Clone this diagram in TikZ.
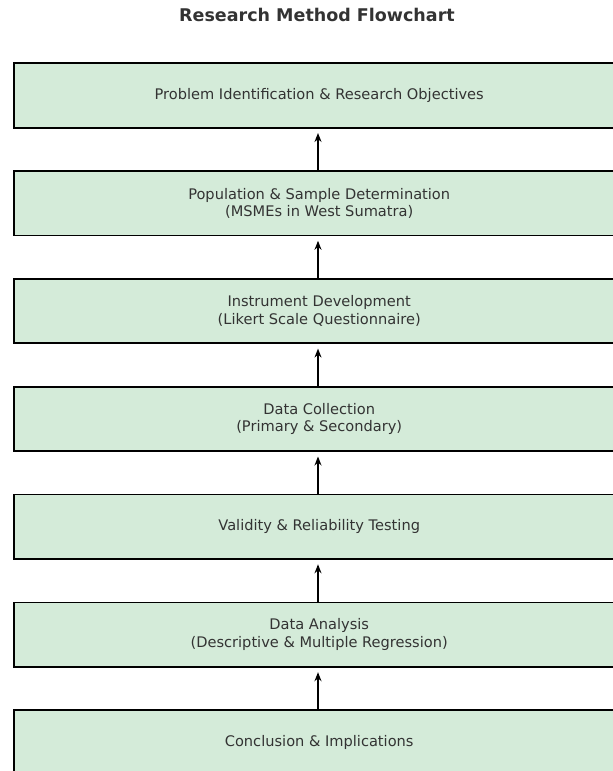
\documentclass[tikz,border=0pt]{standalone}
\usepackage{fontspec}
\setmainfont{DejaVu Sans}
\usetikzlibrary{arrows.meta}
\definecolor{boxfill}{HTML}{D4EBD9}
\definecolor{txt}{HTML}{333333}
\begin{document}
\begin{tikzpicture}[x=1pt,y=-1pt,
  stepbox/.style={draw=black,line width=1.8pt,fill=boxfill,minimum width=610pt,minimum height=64.4pt,
    text=txt,font=\fontsize{14.6}{17.5}\selectfont,align=center,anchor=north west,inner sep=0pt},
  flow/.style={-{Stealth[length=9pt,width=7pt]},line width=1.4pt,shorten >=4.5pt}]
\useasboundingbox (0,0) rectangle (613,771);
\clip (0,0) rectangle (613,771);
\node[font=\bfseries\fontsize{17.5}{20}\selectfont,text=txt] (title) at (317,15) {Research Method Flowchart};
\node[stepbox] (s1) at (13.3,62.3) {Problem Identification \& Research Objectives};
\node[stepbox] (s2) at (13.3,170.1) {Population \& Sample Determination\\(MSMEs in West Sumatra)};
\node[stepbox] (s3) at (13.3,277.9) {Instrument Development\\(Likert Scale Questionnaire)};
\node[stepbox] (s4) at (13.3,385.8) {Data Collection\\(Primary \& Secondary)};
\node[stepbox] (s5) at (13.3,493.6) {Validity \& Reliability Testing};
\node[stepbox] (s6) at (13.3,601.5) {Data Analysis\\(Descriptive \& Multiple Regression)};
\node[stepbox] (s7) at (13.3,709.3) {Conclusion \& Implications};
\foreach \a/\b in {s2/s1,s3/s2,s4/s3,s5/s4,s6/s5,s7/s6}
  \draw[flow] (\a.north -| 318,0) -- (\b.south -| 318,0);
\end{tikzpicture}
\end{document}
